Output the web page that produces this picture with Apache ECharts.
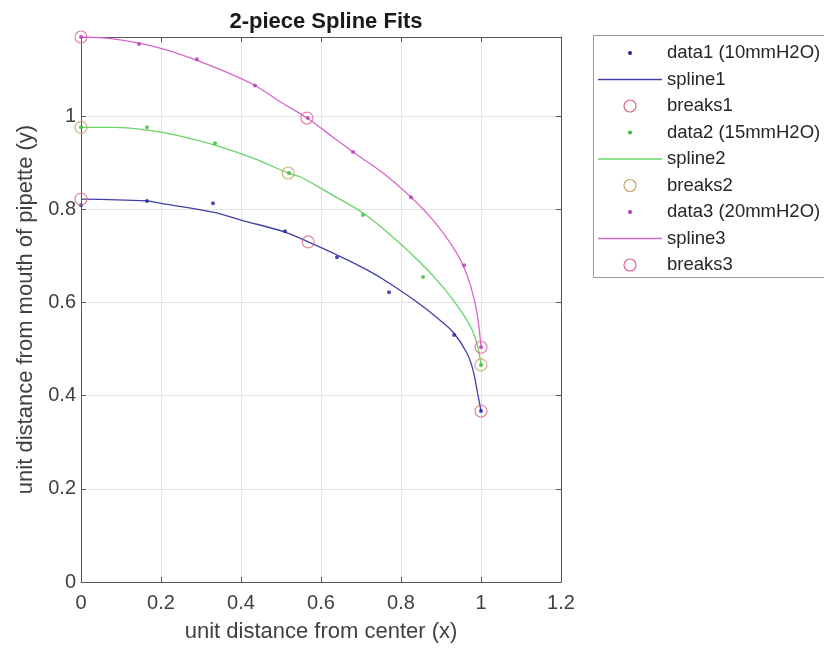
<!DOCTYPE html>
<html>
<head>
<meta charset="utf-8">
<script src="https://cdn.jsdelivr.net/npm/echarts@6/dist/echarts.min.js"></script>
<style>
html,body{margin:0;padding:0;background:#fff;}
#chart{width:824px;height:648px;}
</style>
</head>
<body>
<div id="chart"></div>
<script>
// ---- data ----
const xTicks = [0, 0.2, 0.4, 0.6, 0.8, 1, 1.2];
const yTicks = [0, 0.2, 0.4, 0.6, 0.8, 1];

const data1 = [[0,0.809],[0.165,0.818],[0.33,0.813],[0.51,0.753],[0.64,0.697],[0.77,0.622],[0.933,0.530],[1,0.367]];
const data2 = [[0,0.976],[0.165,0.976],[0.335,0.942],[0.52,0.878],[0.705,0.788],[0.855,0.655],[1,0.466]];
const data3 = [[0,1.17],[0.145,1.155],[0.29,1.122],[0.435,1.066],[0.567,0.996],[0.68,0.923],[0.825,0.826],[0.958,0.680],[1,0.504]];

const spline1 = [[0,0.822],[0.165,0.818],[0.2,0.813],[0.33,0.794],[0.4,0.777],[0.51,0.751],[0.568,0.730],[0.64,0.702],[0.715,0.670],[0.77,0.642],[0.84,0.601],[0.8975,0.562],[0.9325,0.534],[0.965,0.491],[0.98,0.455],[0.99,0.412],[1,0.367]];
const spline2 = [[0,0.976],[0.085,0.976],[0.165,0.970],[0.24,0.959],[0.335,0.938],[0.43,0.910],[0.518,0.878],[0.55,0.869],[0.63,0.830],[0.705,0.792],[0.78,0.740],[0.847,0.687],[0.905,0.633],[0.948,0.584],[0.978,0.541],[0.992,0.504],[1,0.466]];
const spline3 = [[0,1.17],[0.07,1.167],[0.145,1.157],[0.215,1.142],[0.29,1.120],[0.365,1.094],[0.435,1.066],[0.5,1.030],[0.565,0.996],[0.63,0.955],[0.68,0.923],[0.755,0.878],[0.825,0.826],[0.88,0.777],[0.93,0.719],[0.955,0.680],[0.975,0.633],[0.99,0.577],[1,0.504]];

const breaks1 = [[0,0.822],[0.568,0.730],[1,0.367]];
const breaks2 = [[0,0.976],[0.518,0.878],[1,0.466]];
const breaks3 = [[0,1.17],[0.565,0.996],[1,0.504]];

const dataNames = ['data1 (10mmH2O)', 'data2 (15mmH2O)', 'data3 (20mmH2O)'];
const splineNames = ['spline1', 'spline2', 'spline3'];
const breakNames = ['breaks1', 'breaks2', 'breaks3'];

// ---- styling ----
const FONT = '"Liberation Sans", Arial, Helvetica, sans-serif';
const AXIS = '#555555';
const TXT = '#404040';
const GRID = '#e4e4e4';
const dotColors = ['#22229a', '#38b838', '#b834b8'];
const lineColors = ['#4040a8', '#66d466', '#d866c8'];
const breakColors = ['#d86a7c', '#c4a462', '#e0609a'];

const xMin = xTicks[0], xMax = xTicks[xTicks.length - 1];
const yMin = yTicks[0], yMax = 1.17;

function tickFmt(v) {
  const r = Math.round(v / 0.2) * 0.2;
  if (Math.abs(r - v) > 1e-6) return '';
  return String(+r.toFixed(1));
}

const chart = echarts.init(document.getElementById('chart'), null, {renderer: 'canvas'});

const series = [];
const dataSets = [data1, data2, data3];
const splineSets = [spline1, spline2, spline3];
const breakSets = [breaks1, breaks2, breaks3];
for (let i = 0; i < 3; i++) {
  series.push({
    name: dataNames[i], type: 'scatter', data: dataSets[i],
    symbol: 'circle', symbolSize: 4,
    itemStyle: {color: dotColors[i]}, z: 3, silent: true
  });
  series.push({
    name: splineNames[i], type: 'line', data: splineSets[i],
    symbol: 'none', showSymbol: false, smooth: 0.4,
    lineStyle: {color: lineColors[i], width: 1.3}, itemStyle: {color: lineColors[i]},
    z: 2, silent: true
  });
  series.push({
    name: breakNames[i], type: 'scatter', data: breakSets[i],
    symbol: 'circle', symbolSize: 12,
    itemStyle: {color: 'rgba(0,0,0,0)', borderColor: breakColors[i], borderWidth: 1.2},
    z: 4, silent: true
  });
}

// ---- legend (drawn as graphic elements, MATLAB style) ----
const legendEls = [{
  type: 'rect', shape: {x: 593.5, y: 35.5, width: 245, height: 242},
  style: {fill: '#ffffff', stroke: '#9a9a9a', lineWidth: 1}, silent: true, z: 10
}];
const rowY0 = 53, rowStep = 26.5, iconL = 598, iconR = 662, iconC = 630, textX = 667;
for (let i = 0; i < 3; i++) {
  const yd = rowY0 + (3 * i) * rowStep;
  const ys = rowY0 + (3 * i + 1) * rowStep;
  const yb = rowY0 + (3 * i + 2) * rowStep;
  legendEls.push({type: 'circle', shape: {cx: iconC, cy: yd, r: 2}, style: {fill: dotColors[i]}, silent: true, z: 11});
  legendEls.push({type: 'line', shape: {x1: iconL, y1: ys, x2: iconR, y2: ys}, style: {stroke: lineColors[i], lineWidth: 1.3}, silent: true, z: 11});
  legendEls.push({type: 'circle', shape: {cx: iconC, cy: yb, r: 6}, style: {fill: 'none', stroke: breakColors[i], lineWidth: 1.2}, silent: true, z: 11});
  [[dataNames[i], yd], [splineNames[i], ys], [breakNames[i], yb]].forEach(function (p) {
    legendEls.push({type: 'text', x: textX, y: p[1], silent: true, z: 11,
      style: {text: p[0], fontFamily: FONT, fontSize: 18.5, fill: '#262626', verticalAlign: 'middle', align: 'left'}});
  });
}

const option = {
  animation: false,
  backgroundColor: '#ffffff',
  title: {
    text: '2-piece Spline Fits', left: 321, top: 6, textAlign: 'center',
    textStyle: {fontFamily: FONT, fontSize: 22, fontWeight: 'bold', color: '#1a1a1a'}
  },
  graphic: legendEls,
  grid: {left: 81, right: 263, top: 37, bottom: 66, containLabel: false},
  xAxis: [{
    type: 'value', min: xMin, max: xMax, interval: 0.2, position: 'bottom',
    name: 'unit distance from center (x)', nameLocation: 'middle', nameGap: 39,
    nameTextStyle: {fontFamily: FONT, fontSize: 22, color: TXT},
    axisLine: {show: true, onZero: false, lineStyle: {color: AXIS, width: 1}},
    axisTick: {show: true, inside: true, length: 5, lineStyle: {color: AXIS}},
    axisLabel: {fontFamily: FONT, fontSize: 20, color: TXT, margin: 11, formatter: tickFmt},
    splitLine: {show: true, lineStyle: {color: GRID, width: 1}}
  }, {
    type: 'value', min: xMin, max: xMax, interval: 0.2, position: 'top',
    axisLine: {show: true, onZero: false, lineStyle: {color: AXIS, width: 1}},
    axisTick: {show: true, inside: true, length: 5, lineStyle: {color: AXIS}},
    axisLabel: {show: false}, splitLine: {show: false}
  }],
  yAxis: [{
    type: 'value', min: yMin, max: yMax, interval: 0.2, position: 'left',
    name: 'unit distance from mouth of pipette (y)', nameLocation: 'middle', nameGap: 40,
    nameTextStyle: {fontFamily: FONT, fontSize: 22, color: TXT},
    axisLine: {show: true, onZero: false, lineStyle: {color: AXIS, width: 1}},
    axisTick: {show: true, inside: true, length: 5, lineStyle: {color: AXIS}},
    axisLabel: {fontFamily: FONT, fontSize: 20, color: TXT, margin: 5, formatter: tickFmt, showMaxLabel: false},
    splitLine: {show: true, lineStyle: {color: GRID, width: 1}}
  }, {
    type: 'value', min: yMin, max: yMax, interval: 0.2, position: 'right',
    axisLine: {show: true, onZero: false, lineStyle: {color: AXIS, width: 1}},
    axisTick: {show: true, inside: true, length: 5, lineStyle: {color: AXIS}},
    axisLabel: {show: false}, splitLine: {show: false}
  }],
  series: series
};

chart.setOption(option);
</script>
</body>
</html>
